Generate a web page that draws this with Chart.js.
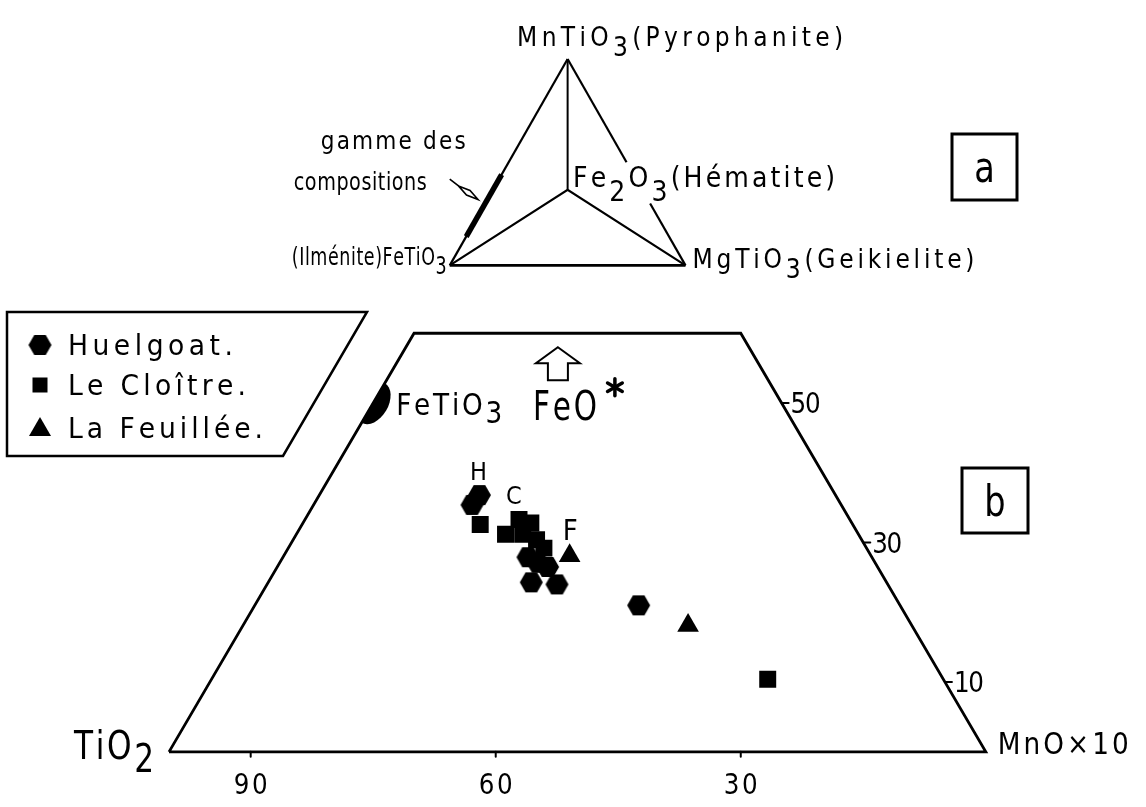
<!DOCTYPE html>
<html>
<head>
<meta charset="utf-8">
<script src="https://cdn.jsdelivr.net/npm/chart.js@4.4.0/dist/chart.umd.min.js"></script>
<style>
  html, body { margin: 0; padding: 0; background: #fff; }
  #wrap { width: 1146px; height: 807px; }
</style>
</head>
<body>
<div id="wrap"><canvas id="c"></canvas></div>
<script>
// ── Data: ternary TiO2 / FeO* / MnO×10 (wt %) ──────────────────────────────
const huelgoatTiO2 = [43.6, 45.2, 42.1, 41.3, 40.4, 43.5, 40.5, 32.0];
const huelgoatFeO  = [36.8, 35.4, 27.9, 27.1, 26.5, 24.3, 24.0, 21.0];
const huelgoatMnO  = [19.6, 19.4, 30.0, 31.6, 33.1, 32.2, 35.5, 47.0];

const cloitreTiO2  = [45.6, 43.2, 40.5, 39.3, 41.1, 39.8, 39.5, 21.5];
const cloitreFeO   = [32.6, 31.2, 33.3, 32.8, 31.2, 30.4, 29.2, 10.4];
const cloitreMnO   = [21.8, 25.6, 26.2, 27.9, 27.7, 29.8, 31.3, 68.1];

const feuilleeTiO2 = [36.9, 27.4];
const feuilleeFeO  = [28.1, 18.1];
const feuilleeMnO  = [35.0, 54.5];

const bottomTicks = [90, 60, 30];   // TiO2 along the base
const rightTicks  = [50, 30, 10];   // FeO* along the right side
const FEO_CUT     = 60;             // the triangle is cut at FeO* = 60
const FETIO3      = [50, 50, 0];    // ilmenite composition on the TiO2–FeO* side

// inset (a): range of compositions along FeTiO3 → MnTiO3 edge (fraction)
const gammeRange = [0.14, 0.44];

// ── Helpers ───────────────────────────────────────────────────────────────
const tern = (t, f, m) => ({ x: m + f / 2, y: f });
const series = (T, F, M) => T.map((t, i) => tern(t, F[i], M[i]));

function makeHex(r) {
  const c = document.createElement('canvas');
  const h = r * Math.sqrt(3) / 2;
  c.width = Math.ceil(2 * r) + 2;
  c.height = Math.ceil(2 * h) + 2;
  const g = c.getContext('2d');
  g.translate(c.width / 2, c.height / 2);
  g.beginPath();
  for (let i = 0; i < 6; i++) {
    const a = i * Math.PI / 3;
    g.lineTo(r * Math.cos(a), r * Math.sin(a));
  }
  g.closePath();
  g.fillStyle = '#000';
  g.fill();
  return c;
}
const hexImg = makeHex(11.5);

const FONT = '"DejaVu Sans", sans-serif';

// text drawn char by char, spread to a target width, with subscripts
function drawText(ctx, segs, x, y, o) {
  ctx.save();
  ctx.font = `${o.size}px ${FONT}`;
  ctx.fillStyle = '#000';
  ctx.textBaseline = 'alphabetic';
  const sx = o.sx || 0.9;
  const chars = [];
  segs.forEach(([t, sub]) => {
    for (const ch of t) chars.push({ ch, sub, w: ctx.measureText(ch).width });
  });
  const natural = chars.reduce((s, c) => s + c.w, 0) * sx;
  const ls = (o.width && chars.length > 1) ? (o.width - natural) / (chars.length - 1) : 0;
  const total = natural + ls * (chars.length - 1);
  let cx = x - (o.align === 'right' ? total : o.align === 'center' ? total / 2 : 0);
  const drop = o.drop ?? o.size * 0.3;
  chars.forEach(c => {
    ctx.save();
    ctx.translate(cx, y + (c.sub ? drop : 0));
    ctx.scale(sx, 1);
    ctx.fillText(c.ch, 0, 0);
    ctx.restore();
    cx += c.w * sx + ls;
  });
  ctx.restore();
}

// ── Labels / layout ───────────────────────────────────────────────────────
const ternLabels = [
  { at: [100, 0, 0], segs: [['TiO'], ['2', 1]], dx: -15, dy: 7, size: 39, sx: 0.8, width: 80, align: 'right', drop: 13 },
  { at: [0, 0, 100], segs: [['MnO×10']], dx: 12, dy: 2, size: 31, sx: 0.85, width: 131 },
  { at: FETIO3, segs: [['FeTiO'], ['3', 1]], dx: 23, dy: 12, size: 31, sx: 0.85, width: 106, drop: 8 },
  { at: [20, FEO_CUT, 20], segs: [['FeO']], dx: -44.5, dy: 87, size: 41, sx: 0.72, width: 64 },
];

const insetLabels = [
  { at: [0.5, 1], segs: [['MnTiO'], ['3', 1], ['(Pyrophanite)']], dx: -50.5, dy: -13, size: 26, width: 326, drop: 10 },
  { at: [0.5, 0.366], segs: [['Fe'], ['2', 1], ['O'], ['3', 1], ['(Hématite)']], dx: 5.5, dy: -3, size: 28, width: 262, drop: 14 },
  { at: [1, 0], segs: [['MgTiO'], ['3', 1], ['(Geikielite)']], dx: 7, dy: 3, size: 26, width: 282, drop: 10 },
  { at: [0, 0], segs: [['(Ilménite)FeTiO'], ['3', 1]], dx: -3, dy: 0, size: 25, sx: 0.7, width: 155, align: 'right', drop: 9 },
  { at: [0, 0], segs: [['gamme des']], dx: -129, dy: -116, size: 24, sx: 0.9, width: 145 },
  { at: [0, 0], segs: [['compositions']], dx: -156, dy: -75, size: 24, sx: 0.8, width: 133 },
];

const legendBox = [[7, 312], [367, 312], [283, 456], [7, 456]];
const legendItems = [
  { marker: 'hex',  text: 'Huelgoat.',    y: 355, width: 165 },
  { marker: 'rect', text: 'Le Cloître.',  y: 395, width: 178 },
  { marker: 'tri',  text: 'La Feuillée.', y: 438, width: 195 },
];
const letterBoxes = [
  { letter: 'a', x: 952, y: 134, w: 65, h: 66 },
  { letter: 'b', x: 962, y: 468, w: 66, h: 65 },
];

// ── Decoration plugin ─────────────────────────────────────────────────────
const decor = {
  id: 'decor',
  afterDatasetsDraw(chart) {
    const { ctx } = chart;
    const xs = chart.scales.x, ys = chart.scales.y;
    const xa = chart.scales.xa, ya = chart.scales.ya;
    const tp = (t, f, m) => {
      const p = tern(t, f, m);
      return [xs.getPixelForValue(p.x), ys.getPixelForValue(p.y)];
    };
    const ip = (a, b) => [xa.getPixelForValue(a), ya.getPixelForValue(b)];

    ctx.save();
    ctx.strokeStyle = '#000';
    ctx.fillStyle = '#000';
    ctx.lineCap = 'round';

    // ticks on the base (TiO2)
    ctx.lineWidth = 2;
    bottomTicks.forEach(v => {
      const [px, py] = tp(v, 0, 100 - v);
      ctx.beginPath(); ctx.moveTo(px, py); ctx.lineTo(px, py + 5); ctx.stroke();
      drawText(ctx, [[String(v)]], px, py + 42, { size: 29, sx: 0.85, width: 34, align: 'center' });
    });
    // ticks on the right side (FeO*)
    rightTicks.forEach(v => {
      const [px, py] = tp(0, v, 100 - v);
      ctx.beginPath(); ctx.moveTo(px, py); ctx.lineTo(px + 7, py); ctx.stroke();
      drawText(ctx, [[String(v)]], px + 9, py + 10, { size: 29, sx: 0.85, width: 30 });
    });

    ternLabels.forEach(l => {
      const [px, py] = tp(...l.at);
      drawText(ctx, l.segs, px + l.dx, py + l.dy, l);
    });
    insetLabels.forEach(l => {
      const [px, py] = ip(...l.at);
      drawText(ctx, l.segs, px + l.dx, py + l.dy, l);
    });

    // open arrow + asterisk pointing to FeO*
    const [ax, ay] = tp(20, FEO_CUT, 20);
    const cx = ax - 19.5, cy = ay + 14;
    ctx.lineWidth = 2;
    ctx.lineJoin = 'miter';
    ctx.beginPath();
    [[0, 0], [22, 16], [10, 16], [10, 33], [-10, 33], [-10, 16], [-22, 16]]
      .forEach(([dx, dy], i) => i ? ctx.lineTo(cx + dx, cy + dy) : ctx.moveTo(cx + dx, cy + dy));
    ctx.closePath();
    ctx.stroke();
    const sx0 = ax + 37.5, sy0 = ay + 54;
    ctx.lineWidth = 3.5;
    for (let i = 0; i < 3; i++) {
      const a = Math.PI / 2 + i * Math.PI / 3;
      ctx.beginPath();
      ctx.moveTo(sx0 - 8.5 * Math.cos(a), sy0 - 8.5 * Math.sin(a));
      ctx.lineTo(sx0 + 8.5 * Math.cos(a), sy0 + 8.5 * Math.sin(a));
      ctx.stroke();
    }

    // FeTiO3 half disc on the TiO2–FeO* side
    const [p0x, p0y] = tp(100, 0, 0);
    const [p1x, p1y] = tp(100 - FEO_CUT, FEO_CUT, 0);
    const ang = Math.atan2(p1y - p0y, p1x - p0x);
    const [hx, hy] = tp(...FETIO3);
    ctx.save();
    ctx.translate(hx, hy);
    ctx.rotate(ang);
    ctx.beginPath();
    ctx.ellipse(0, 0, 23, 15, 0, 0, Math.PI);
    ctx.closePath();
    ctx.fill();
    ctx.restore();

    // H / C / F series letters
    const hp = tp(huelgoatTiO2[0], huelgoatFeO[0], huelgoatMnO[0]);
    drawText(ctx, [['H']], hp[0] - 1, hp[1] - 15, { size: 25, align: 'center' });
    const cp = tp(cloitreTiO2[2], cloitreFeO[2], cloitreMnO[2]);
    drawText(ctx, [['C']], cp[0] - 13, cp[1] - 16, { size: 25 });
    const fp = tp(feuilleeTiO2[0], feuilleeFeO[0], feuilleeMnO[0]);
    drawText(ctx, [['F']], fp[0] - 7, fp[1] - 16, { size: 29 });

    // legend
    ctx.lineWidth = 2.5;
    ctx.lineJoin = 'miter';
    ctx.beginPath();
    legendBox.forEach(([x, y], i) => i ? ctx.lineTo(x, y) : ctx.moveTo(x, y));
    ctx.closePath();
    ctx.stroke();
    legendItems.forEach(it => {
      const mx = 40, my = it.y - 10;
      if (it.marker === 'hex') {
        ctx.drawImage(hexImg, mx - hexImg.width / 2, my - hexImg.height / 2);
      } else if (it.marker === 'rect') {
        ctx.fillRect(mx - 7.5, my - 7.5, 15, 15);
      } else {
        ctx.beginPath();
        ctx.moveTo(mx, my - 11); ctx.lineTo(mx + 11, my + 8); ctx.lineTo(mx - 11, my + 8);
        ctx.closePath(); ctx.fill();
      }
      drawText(ctx, [[it.text]], 68, it.y, { size: 28, sx: 0.95, width: it.width });
    });

    // panel letters
    letterBoxes.forEach(b => {
      ctx.lineWidth = 3;
      ctx.strokeRect(b.x, b.y, b.w, b.h);
      drawText(ctx, [[b.letter]], b.x + b.w / 2, b.y + b.h / 2 + 15, { size: 42, align: 'center', sx: 0.8 });
    });

    ctx.restore();
  },
};

// ── Datasets ──────────────────────────────────────────────────────────────
const lineDs = (data, width, axes = 'main') => ({
  type: 'scatter',
  data,
  showLine: true,
  borderColor: '#000',
  borderWidth: width,
  pointRadius: 0,
  fill: false,
  tension: 0,
  order: 2,
  xAxisID: axes === 'inset' ? 'xa' : 'x',
  yAxisID: axes === 'inset' ? 'ya' : 'y',
});

const trapezoid = [
  tern(100, 0, 0), tern(100 - FEO_CUT, FEO_CUT, 0),
  tern(0, FEO_CUT, 100 - FEO_CUT), tern(0, 0, 100), tern(100, 0, 0),
];

// inset (a): tetrahedron projection
const vFe = { x: 0, y: 0 }, vMg = { x: 1, y: 0 }, vMn = { x: 0.5, y: 1 }, vHem = { x: 0.5, y: 0.366 };
const onEdge = (a, b, s) => ({ x: a.x + (b.x - a.x) * s, y: a.y + (b.y - a.y) * s });
const dart = [
  { x: 0, y: 0.418 }, { x: 0.037, y: 0.385 }, { x: 0.071, y: 0.341 },
  { x: 0.120, y: 0.319 }, { x: 0.086, y: 0.363 }, { x: 0.037, y: 0.385 },
];

const datasets = [
  { label: 'Huelgoat', data: series(huelgoatTiO2, huelgoatFeO, huelgoatMnO),
    pointStyle: hexImg, pointRadius: 11, backgroundColor: '#000', borderColor: '#000', order: 0 },
  { label: 'Le Cloître', data: series(cloitreTiO2, cloitreFeO, cloitreMnO),
    pointStyle: 'rect', pointRadius: 12, backgroundColor: '#000', borderColor: '#000', borderWidth: 0, order: 0 },
  { label: 'La Feuillée', data: series(feuilleeTiO2, feuilleeFeO, feuilleeMnO),
    pointStyle: 'triangle', pointRadius: 12.5, backgroundColor: '#000', borderColor: '#000', borderWidth: 0, order: 0 },
  lineDs(trapezoid, 2.8),
  lineDs([vFe, vMn], 2.2, 'inset'),
  lineDs([vMn, onEdge(vMn, vMg, 0.5)], 2.2, 'inset'),
  lineDs([onEdge(vMn, vMg, 0.7), vMg], 2.2, 'inset'),
  lineDs([vMg, vFe], 2.6, 'inset'),
  lineDs([vMn, vHem], 2, 'inset'),
  lineDs([vFe, vHem, vMg], 2.2, 'inset'),
  lineDs([onEdge(vFe, vMn, gammeRange[0]), onEdge(vFe, vMn, gammeRange[1])], 5.5, 'inset'),
  lineDs(dart, 1.6, 'inset'),
];

// ── Chart ─────────────────────────────────────────────────────────────────
new Chart(document.getElementById('c'), {
  type: 'scatter',
  data: { datasets },
  options: {
    responsive: true,
    maintainAspectRatio: false,
    animation: false,
    events: [],
    layout: { padding: 0 },
    plugins: { legend: { display: false }, tooltip: { enabled: false } },
    scales: {
      x:  { type: 'linear', display: false, min: -160 / 8.35, max: 986 / 8.35 },
      y:  { type: 'linear', display: false, min: -44 / 7.2, max: 763 / 7.2 },
      xa: { type: 'linear', display: false, axis: 'x', min: -447 / 241, max: 699 / 241 },
      ya: { type: 'linear', display: false, axis: 'y', min: -546 / 213, max: 261 / 213 },
    },
  },
  plugins: [decor],
});
</script>
</body>
</html>
